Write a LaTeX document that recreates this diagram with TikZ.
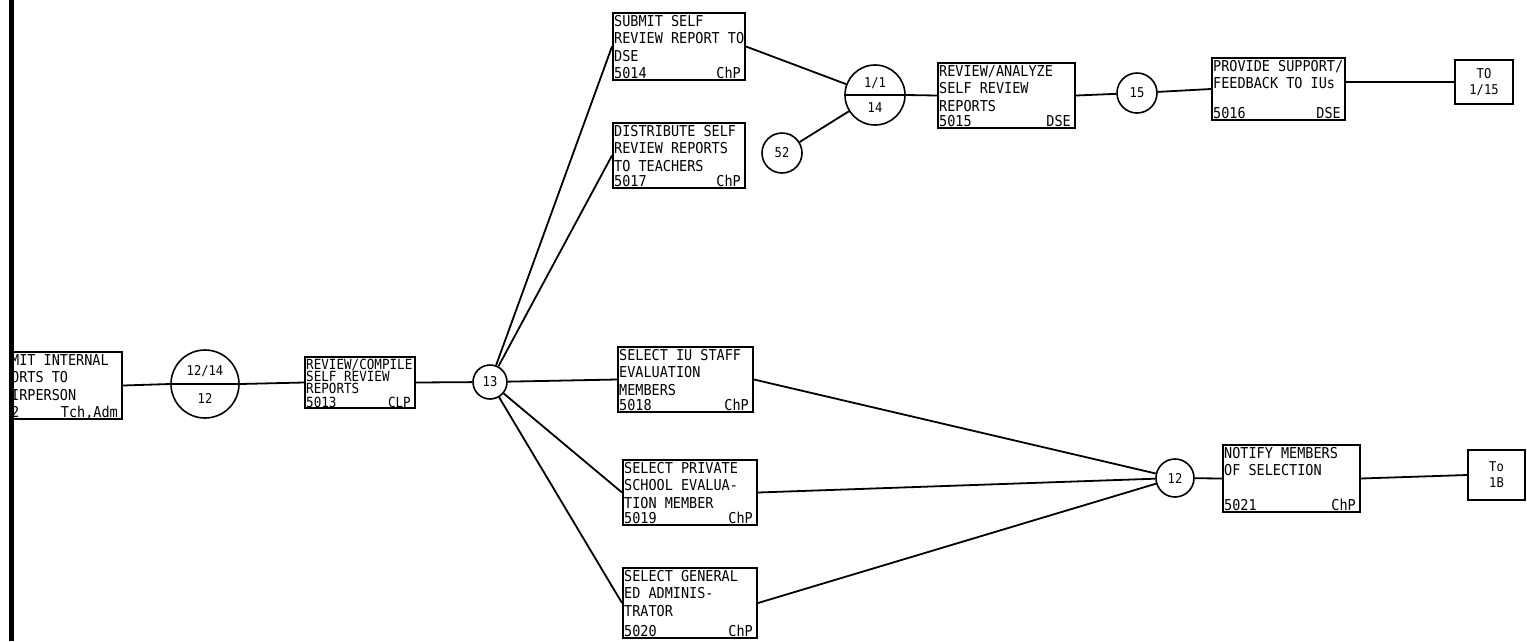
\documentclass[tikz,border=0pt]{standalone}
\usepackage{fontspec}
\newfontfamily\lpfont{DejaVu Sans Mono}[FakeStretch=0.9]
\usetikzlibrary{fit}
\tikzset{
  pbx/.style={draw, line width=2pt, inner sep=0pt},
  txt/.style={font=\lpfont\fontsize{15}{17.5}\selectfont, inner sep=0pt, align=left},
  stxt/.style={font=\lpfont\fontsize{14}{11.5}\selectfont, inner sep=0pt, align=left},
  ctxt/.style={font=\lpfont\fontsize{13.5}{16}\selectfont, inner sep=0pt, align=center},
  circ/.style={draw, circle, line width=1.6pt, inner sep=0pt},
  conn/.style={line width=1.8pt},
  bar/.style={line width=5pt},
}
\newcommand\pbox[8]{%
  \node[pbx, fit={(#2,#3) (#4,#5)}] (#1) {};
  \node[txt, anchor=north west] (#1t) at ([xshift=2pt,yshift=-3pt]#1.north west) {#6};
  \node[txt, anchor=base west] (#1c) at ([xshift=2pt,yshift=2.5pt]#1.south west) {#7};
  \node[txt, anchor=base east] (#1w) at ([xshift=-5pt,yshift=2.5pt]#1.south east) {#8};
}
\begin{document}
\begin{tikzpicture}[x=1pt,y=-1pt]
\useasboundingbox (0,0) rectangle (1527,641);
\coordinate (bartop) at (11,0);
\coordinate (barbot) at (11,641);
\draw[bar] (bartop) -- (barbot);

% boxes
\pbox{bA}{10}{352}{122}{419}{MIT INTERNAL\\ORTS TO\\IRPERSON}{2}{Tch,Adm}
% compressed box 5013
\node[pbx, fit={(305,357) (415,408)}] (bB) {};
\node[stxt, anchor=north west] (bBt) at ([xshift=2pt,yshift=-2.5pt]bB.north west) {REVIEW/COMPILE\\SELF REVIEW\\REPORTS};
\node[stxt, anchor=base west] (bBc) at ([xshift=2pt,yshift=1.5pt]bB.south west) {5013};
\node[stxt, anchor=base east] (bBw) at ([xshift=-5pt,yshift=1.5pt]bB.south east) {CLP};

\pbox{bC}{613}{13}{745}{80}{SUBMIT SELF\\REVIEW REPORT TO\\DSE}{5014}{ChP}
\pbox{bD}{613}{123}{745}{188}{DISTRIBUTE SELF\\REVIEW REPORTS\\TO TEACHERS}{5017}{ChP}
\pbox{bE}{618}{347}{753}{412}{SELECT IU STAFF\\EVALUATION\\MEMBERS}{5018}{ChP}
\pbox{bF}{623}{460}{757}{525}{SELECT PRIVATE\\SCHOOL EVALUA-\\TION MEMBER}{5019}{ChP}
\pbox{bG}{623}{568}{757}{638}{SELECT GENERAL\\ED ADMINIS-\\TRATOR}{5020}{ChP}
\pbox{bH}{938}{63}{1075}{128}{REVIEW/ANALYZE\\SELF REVIEW\\REPORTS}{5015}{DSE}
\pbox{bI}{1212}{58}{1345}{120}{PROVIDE SUPPORT/\\FEEDBACK TO IUs}{5016}{DSE}
\pbox{bJ}{1223}{445}{1360}{512}{NOTIFY MEMBERS\\OF SELECTION}{5021}{ChP}

\node[pbx, fit={(1455,60) (1513,104)}] (bK) {};
\node[ctxt] (bKt) at (bK.center) {TO\\1/15};
\node[pbx, fit={(1468,450) (1525,500)}] (bL) {};
\node[ctxt] (bLt) at (bL.center) {To\\1B};

% circles
\node[circ, minimum size=68pt] (c1) at (205,384) {};
\node[ctxt] (c1a) at ([yshift=13pt]c1.center) {12/14};
\node[ctxt] (c1b) at ([yshift=-14pt]c1.center) {12};
\node[circ, ctxt, minimum size=34pt] (c13) at (490,382) {13};
\node[circ, minimum size=60pt] (c2) at (875,95) {};
\node[ctxt] (c2a) at ([yshift=12pt]c2.center) {1/1};
\node[ctxt] (c2b) at ([yshift=-13pt]c2.center) {14};
\node[circ, ctxt, minimum size=40pt] (c52) at (782,153) {52};
\node[circ, ctxt, minimum size=40pt] (c15) at (1137,93) {15};
\node[circ, ctxt, minimum size=38pt] (c12) at (1175,478) {12};

% connectors
\draw[conn] (bA.east) -- (c1.west) -- (c1.east) -- (bB.west);
\draw[conn] (bB.east) -- (c13);
\draw[conn] (c13) -- (bC.west);
\draw[conn] (c13) -- (bD.west);
\draw[conn] (c13) -- (bE.west);
\draw[conn] (c13) -- (bF.west);
\draw[conn] (c13) -- (bG.west);
\draw[conn] (bC.east) -- (c2);
\draw[conn] (c52) -- (c2);
\draw[conn] (c2.west) -- (c2.east) -- (bH.west);
\draw[conn] (bH.east) -- (c15);
\draw[conn] (c15) -- (bI.west);
\draw[conn] (bK.west -| bI.east) -- (bK.west);
\draw[conn] (bE.east) -- (c12);
\draw[conn] (bF.east) -- (c12);
\draw[conn] (bG.east) -- (c12);
\draw[conn] (c12) -- (bJ.west);
\draw[conn] (bJ.east) -- (bL.west);
\end{tikzpicture}
\end{document}
